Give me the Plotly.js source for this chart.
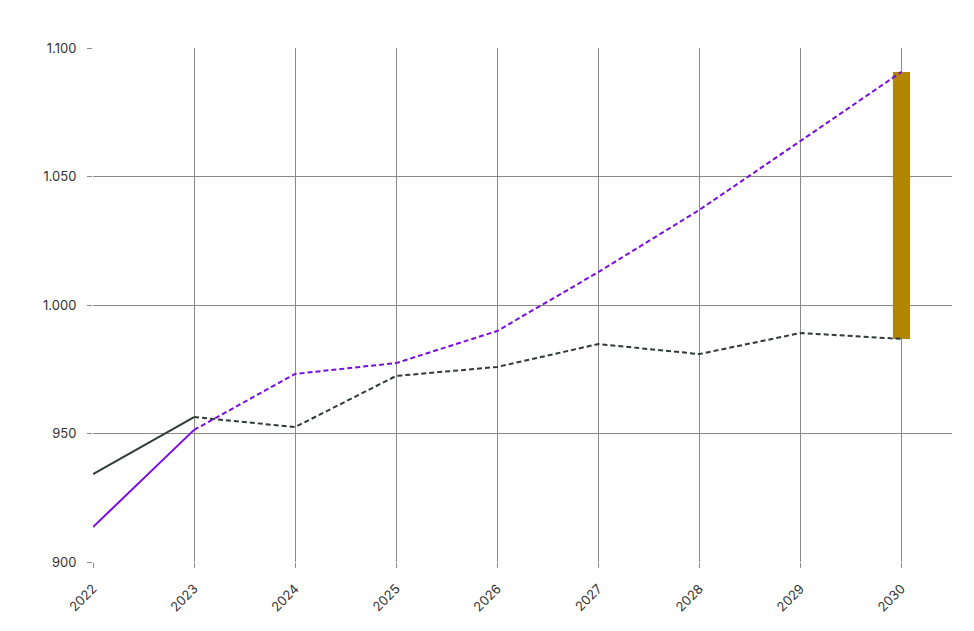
<!DOCTYPE html>
<html><head><meta charset="utf-8">
<script src="https://cdn.plot.ly/plotly-3.0.1.min.js"></script>
<style>html,body{margin:0;padding:0;background:#fff}</style>
</head><body>
<div id="chart" style="width:974px;height:631px"></div>
<script>
const years = [2022, 2023, 2024, 2025, 2026, 2027, 2028, 2029, 2030];
const seriesDark = [934.2, 956.4, 952.5, 972.4, 975.9, 984.8, 980.9, 989.1, 986.8];
const seriesPurple = [913.6, 951.4, 973.2, 977.4, 989.9, 1012.8, 1037.0, 1063.8, 1090.7];
const gapYear = [2030];
const gapLow = [986.8];
const gapHigh = [1090.7];
const yTicks = [900, 950, 1000, 1050, 1100];

const darkColor = '#2e3b37';
const purpleColor = '#7b0be0';
const barColor = '#b38600';

const traces = [
  {x: [gapYear[0]], y: [gapHigh[0] - gapLow[0]], base: [gapLow[0]], type: 'bar',
   width: 0.17, marker: {color: barColor}, hoverinfo: 'skip', showlegend: false},
  {x: years.slice(0, 2), y: seriesDark.slice(0, 2), mode: 'lines', type: 'scatter',
   line: {color: darkColor, width: 2}, showlegend: false},
  {x: years.slice(1), y: seriesDark.slice(1), mode: 'lines', type: 'scatter',
   line: {color: darkColor, width: 2, dash: '5px,3px'}, showlegend: false},
  {x: years.slice(0, 2), y: seriesPurple.slice(0, 2), mode: 'lines', type: 'scatter',
   line: {color: purpleColor, width: 2}, showlegend: false},
  {x: years.slice(1), y: seriesPurple.slice(1), mode: 'lines', type: 'scatter',
   line: {color: purpleColor, width: 2, dash: '5px,3px'}, showlegend: false}
];

const layout = {
  width: 974, height: 631,
  margin: {l: 93, r: 22, t: 48, b: 69},
  paper_bgcolor: '#ffffff', plot_bgcolor: '#ffffff',
  separators: ',.',
  font: {family: 'Inter, "Noto Sans", sans-serif', size: 13, color: '#333333'},
  showlegend: false,
  xaxis: {
    range: [2022, 2030.5], tickmode: 'array', tickvals: years, ticktext: years.map(String),
    tickangle: -45, showgrid: true, gridcolor: '#8a8a8a', gridwidth: 1,
    ticks: 'outside', ticklen: 5, tickcolor: '#8a8a8a', ticklabelstandoff: 8,
    zeroline: false, showline: false
  },
  yaxis: {
    range: [900, 1100], tickmode: 'array', tickvals: yTicks, separatethousands: true,
    tickformat: ',d', showgrid: true, gridcolor: '#8a8a8a', gridwidth: 1,
    ticks: 'outside', ticklen: 5, tickcolor: '#8a8a8a', ticklabelstandoff: 8,
    zeroline: false, showline: false
  }
};

Plotly.newPlot('chart', traces, layout, {displayModeBar: false, staticPlot: true});
</script>
</body></html>
